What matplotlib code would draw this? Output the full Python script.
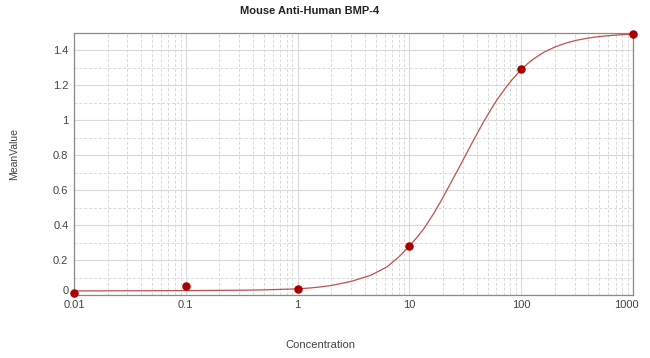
"""Standard curve: Mouse Anti-Human BMP-4 (4PL fit, log x)."""

import matplotlib
matplotlib.use("Agg")
import matplotlib.pyplot as plt
import matplotlib.transforms as mtransforms
from matplotlib.ticker import FixedLocator, LogLocator, MultipleLocator, NullFormatter

plt.rcParams.update({"font.family": ["Liberation Sans", "DejaVu Sans"],
                     "font.size": 8})

# measured standards
conc = [0.01, 0.1, 1, 10, 100, 1000]
mean_value = [0.015, 0.053, 0.038, 0.282, 1.29, 1.49]

# fitted curve
curve_conc = [0.01, 0.03, 0.1, 0.3, 0.5, 1, 1.3, 1.5, 2, 3, 4.5, 6.3, 8.2, 10,
              12, 13.7, 16.5, 19.4, 23, 27.4, 30.5, 37.3, 45.8, 54, 62, 72,
              82, 100, 115, 133, 160, 200, 250, 303, 380, 457, 560, 690, 850, 1000]
curve_value = [0.026, 0.027, 0.028, 0.030, 0.032, 0.038, 0.043, 0.047, 0.057,
               0.080, 0.115, 0.163, 0.225, 0.282, 0.340, 0.388, 0.468, 0.545,
               0.632, 0.722, 0.778, 0.884, 0.988, 1.065, 1.125, 1.182, 1.228,
               1.290, 1.325, 1.356, 1.389, 1.418, 1.440, 1.455, 1.467, 1.475,
               1.481, 1.486, 1.490, 1.492]

x_ticks = [0.01, 0.1, 1, 10, 100, 1000]
x_labels = ["0.01", "0.1", "1", "10", "100", "1000"]
y_ticks = [0, 0.2, 0.4, 0.6, 0.8, 1, 1.2, 1.4]
y_labels = ["0", "0.2", "0.4", "0.6", "0.8", "1", "1.2", "1.4"]

TXT = "#444444"
GRID = "#d9d9d9"

fig = plt.figure(figsize=(6.5, 3.58), dpi=100)
ax = fig.add_axes([0.1138, 0.1746, 0.8600, 0.7341])

ax.plot(curve_conc, curve_value, color="#c0504d", lw=0.9, zorder=3)
ax.scatter(conc, mean_value, s=26, color="#a80000", zorder=4, clip_on=False)

ax.set_xscale("log")
ax.set_xlim(0.01, 1000)
ax.set_ylim(0, 1.5)

ax.xaxis.set_major_locator(FixedLocator(x_ticks))
ax.set_xticklabels(x_labels)
ax.xaxis.set_minor_locator(LogLocator(base=10, subs=range(2, 10)))
ax.xaxis.set_minor_formatter(NullFormatter())
ax.yaxis.set_major_locator(FixedLocator(y_ticks))
ax.set_yticklabels(y_labels)
ax.yaxis.set_minor_locator(MultipleLocator(0.1))

ax.grid(True, which="major", color=GRID, lw=0.8, ls="-")
ax.grid(True, which="minor", color=GRID, lw=0.7, ls=(0, (3, 2)))
ax.set_axisbelow(True)

ax.tick_params(which="both", length=0, colors=TXT, labelsize=8)
ax.tick_params(axis="x", pad=3.5)
ax.tick_params(axis="y", pad=4)
for s in ax.spines.values():
    s.set_color("#8a8a8a")
    s.set_linewidth(0.9)

# nudge end labels like the original (0 up, 1000 left)
ylab = ax.get_yticklabels()
ylab[0].set_transform(ylab[0].get_transform()
                      + mtransforms.ScaledTranslation(0, 5 / 100, fig.dpi_scale_trans))
xlab = ax.get_xticklabels()
xlab[-1].set_transform(xlab[-1].get_transform()
                       + mtransforms.ScaledTranslation(-7 / 100, 0, fig.dpi_scale_trans))

fig.text(310 / 650, 1 - 11 / 358, "Mouse Anti-Human BMP-4", ha="center",
         va="center", fontsize=8, fontweight="bold", color="#222222")
fig.text(320 / 650, 1 - 345 / 358, "Concentration", ha="center", va="center",
         fontsize=8, color=TXT)
fig.text(14 / 650, 1 - 154 / 358, "MeanValue", ha="center", va="center",
         rotation=90, fontsize=7.5, color=TXT)

fig.savefig("out.png", dpi=100)
